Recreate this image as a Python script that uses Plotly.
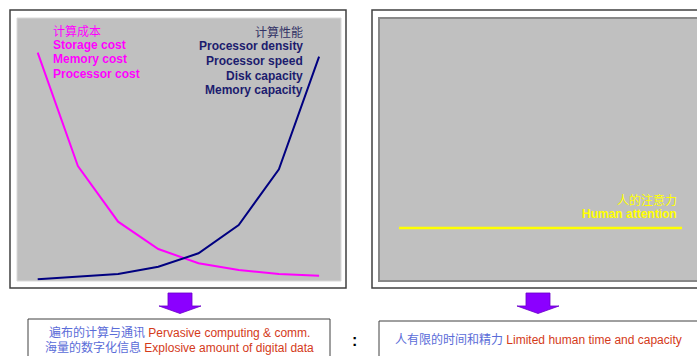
import plotly.graph_objects as go

# ---- data ----
periods = [0, 1, 2, 3, 4, 5, 6, 7]
cost_values = [228.3, 115.0, 59.3, 32.0, 17.7, 11.0, 7.0, 5.3]
performance_values = [1.7, 4.3, 7.0, 14.3, 27.7, 56.0, 111.7, 224.3]
attention_values = [53, 53, 53, 53, 53, 53, 53, 53]

cost_labels = ["计算成本", "Storage cost", "Memory cost", "Processor cost"]
perf_labels = ["计算性能", "Processor density", "Processor speed", "Disk capacity", "Memory capacity"]
attention_labels = ["人的注意力", "Human attention"]
left_box = [("遍布的计算与通讯", "Pervasive computing & comm."),
            ("海量的数字化信息", "Explosive amount of digital data")]
right_box = [("人有限的时间和精力", "Limited human time and capacity")]

W, H = 697, 356
FONT = "Arial, 'Liberation Sans', 'Noto Sans CJK SC', sans-serif"


def fx(x):
    return x / W


def fy(y):
    return 1 - y / H


fig = go.Figure()
fig.add_trace(go.Scatter(x=periods, y=cost_values, mode="lines",
                         line=dict(color="#FF00FF", width=2), xaxis="x", yaxis="y",
                         showlegend=False, hoverinfo="skip"))
fig.add_trace(go.Scatter(x=periods, y=performance_values, mode="lines",
                         line=dict(color="#000080", width=2), xaxis="x", yaxis="y",
                         showlegend=False, hoverinfo="skip"))
fig.add_trace(go.Scatter(x=periods, y=attention_values, mode="lines",
                         line=dict(color="#FFFF00", width=2.5), xaxis="x2", yaxis="y2",
                         showlegend=False, hoverinfo="skip"))

ax_common = dict(showgrid=False, zeroline=False, showticklabels=False, ticks="",
                 showline=False, fixedrange=True)

shapes = []
# outer frames
shapes.append(dict(type="rect", xref="paper", yref="paper", x0=fx(10), x1=fx(346),
                   y0=fy(288), y1=fy(10), line=dict(color="#404040", width=1.5)))
shapes.append(dict(type="rect", xref="paper", yref="paper", x0=fx(372), x1=fx(702),
                   y0=fy(288), y1=fy(10), line=dict(color="#404040", width=1.5)))
# inner gray borders
shapes.append(dict(type="rect", xref="paper", yref="paper", x0=fx(17), x1=fx(341),
                   y0=fy(281), y1=fy(18), line=dict(color="#D8D8D8", width=1)))
shapes.append(dict(type="rect", xref="paper", yref="paper", x0=fx(379), x1=fx(702),
                   y0=fy(281), y1=fy(18), line=dict(color="#888888", width=2)))
# bottom boxes
shapes.append(dict(type="rect", xref="paper", yref="paper", x0=fx(28), x1=fx(330),
                   y0=fy(360), y1=fy(319), line=dict(color="#404040", width=1)))
shapes.append(dict(type="rect", xref="paper", yref="paper", x0=fx(379), x1=fx(702),
                   y0=fy(360), y1=fy(321), line=dict(color="#404040", width=1)))


def arrow(cx):
    pts = [(cx - 12, 293), (cx + 12, 293), (cx + 12, 306), (cx + 21, 306),
           (cx, 313.5), (cx - 21, 306), (cx - 12, 306)]
    path = "M " + " L ".join(f"{fx(x):.5f},{fy(y):.5f}" for x, y in pts) + " Z"
    return dict(type="path", xref="paper", yref="paper", path=path,
                fillcolor="#8B00FF", line=dict(color="#6A00C8", width=0.8))


shapes.append(arrow(180))
shapes.append(arrow(538))

ann = []


def label(text, x, y, color, anchor, size=12, bold=False):
    t = f"<b>{text}</b>" if bold else text
    ann.append(dict(text=t, x=fx(x), y=fy(y), xref="paper", yref="paper",
                    xanchor=anchor, yanchor="middle", showarrow=False,
                    font=dict(family=FONT, size=size, color=color)))


# cost labels
cost_y = [31, 44.5, 59, 73.5]
for i, t in enumerate(cost_labels):
    label(t, 51, cost_y[i], "#FF00FF", "left", size=12, bold=i > 0)
# performance labels
perf_y = [32, 46, 61, 76, 90]
for i, t in enumerate(perf_labels):
    label(t, 305, perf_y[i], "#333366" if i == 0 else "#1C1C6E", "right",
          size=12, bold=i > 0)
# attention labels
att_y = [200, 214]
for i, t in enumerate(attention_labels):
    label(t, 679, att_y[i], "#FFFF00", "right", size=12, bold=i > 0)

# box texts
BLUE = "#5A6CD8"
RED = "#D43A1A"
box_y = [332, 347]
for i, (cn, en) in enumerate(left_box):
    t = f'<span style="color:{BLUE}">{cn}</span> <span style="color:{RED}">{en}</span>'
    label(t, 179, box_y[i], RED, "center")
for i, (cn, en) in enumerate(right_box):
    t = f'<span style="color:{BLUE}">{cn}</span> <span style="color:{RED}">{en}</span>'
    label(t, 538, 339, RED, "center")

# colon
label(":", 355, 340, "#000000", "center", size=16, bold=True)

fig.update_layout(
    width=W, height=H,
    margin=dict(l=0, r=0, t=0, b=0),
    paper_bgcolor="#FFFFFF",
    plot_bgcolor="#C0C0C0",
    showlegend=False,
    xaxis=dict(domain=[fx(17), fx(341)], range=[-0.515, 7.545], **ax_common),
    yaxis=dict(domain=[fy(281), fy(18)], range=[0, 263], **ax_common),
    xaxis2=dict(domain=[fx(379), 1], range=[-0.495, 7.371], anchor="y2", **ax_common),
    yaxis2=dict(domain=[fy(281), fy(18)], range=[0, 263], anchor="x2", **ax_common),
    shapes=shapes,
    annotations=ann,
)

fig.write_html("out.html", config={"displayModeBar": False})
